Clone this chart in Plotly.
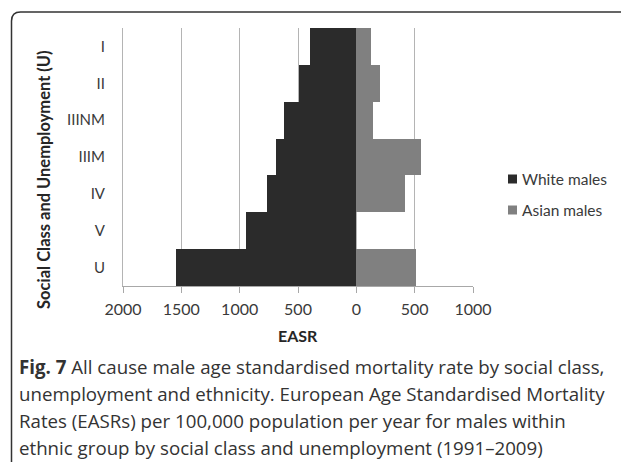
import plotly.graph_objects as go

# Social class / unemployment groups, top to bottom
categories = ["I", "II", "IIINM", "IIIM", "IV", "V", "U"]
# EASR per 100,000 per year
white_males = [400, 490, 620, 690, 770, 945, 1545]
asian_males = [125, 200, 140, 555, 415, 0, 510]

tick_vals = [-2000, -1500, -1000, -500, 0, 500, 1000]
tick_text = ["2000", "1500", "1000", "500", "0", "500", "1000"]

W, H = 621, 462
L, R, T, B = 123, 148, 28, 176
PW, PH = W - L - R, H - T - B


def px(x):
    return (x - L) / PW


def py(y):
    return (H - B - y) / PH


CHART_FONT = "Lato, 'Open Sans', sans-serif"
CAPTION_FONT = "'Open Sans', 'Noto Sans', sans-serif"

fig = go.Figure()
fig.add_trace(go.Bar(
    y=categories, x=[-v for v in white_males], orientation="h",
    name="White males", marker=dict(color="#2b2b2b", line=dict(width=0)),
    showlegend=False,
))
fig.add_trace(go.Bar(
    y=categories, x=asian_males, orientation="h",
    name="Asian males", marker=dict(color="#808080", line=dict(width=0)),
    showlegend=False,
))

fig.update_layout(
    width=W, height=H,
    margin=dict(l=L, r=R, t=T, b=B),
    paper_bgcolor="white", plot_bgcolor="white",
    barmode="relative", bargap=0,
    font=dict(family=CHART_FONT, size=14, color="#404040"),
)
fig.update_xaxes(
    range=[-2000, 1000], tickvals=tick_vals, ticktext=tick_text,
    showgrid=True, gridcolor="#b4b4b4", gridwidth=1, zeroline=False,
    showline=True, linecolor="#a8a8a8", linewidth=1,
    ticks="outside", ticklen=6, tickcolor="#a8a8a8",
    ticklabelstandoff=3,
    tickfont=dict(size=16, color="#3a3a3a"),
)
fig.update_yaxes(
    categoryorder="array", categoryarray=categories, autorange="reversed",
    showgrid=False, zeroline=False, showline=True, linecolor="#b4b4b4",
    ticks="", ticklabelstandoff=14,
    tickfont=dict(size=15, color="#3a3a3a"),
)

ann = []
# axis titles
ann.append(dict(x=px(44), y=py(180), xref="paper", yref="paper",
                text="<b>Social Class and Unemployment (U)</b>", textangle=-90,
                showarrow=False, font=dict(size=16.5, color="#262626"),
                xanchor="center", yanchor="middle"))
ann.append(dict(x=px(298), y=py(335), xref="paper", yref="paper",
                text="<b>EASR</b>", showarrow=False,
                font=dict(size=16, color="#262626"),
                xanchor="center", yanchor="middle"))

# legend
shapes = []
legend_items = [("White males", "#2b2b2b", 179), ("Asian males", "#808080", 210)]
for label, color, yc in legend_items:
    shapes.append(dict(type="rect", xref="paper", yref="paper",
                       x0=px(508), x1=px(517), y0=py(yc + 4.5), y1=py(yc - 4.5),
                       fillcolor=color, line=dict(width=0)))
    ann.append(dict(x=px(520), y=py(yc), xref="paper", yref="paper",
                    text=label, showarrow=False, xanchor="left", yanchor="middle",
                    font=dict(size=15.5, color="#3a3a3a")))

# caption
caption = [
    "<b>Fig. 7</b> All cause male age standardised mortality rate by social class,",
    "unemployment and ethnicity. European Age Standardised Mortality",
    "Rates (EASRs) per 100,000 population per year for males within",
    "ethnic group by social class and unemployment (1991–2009)",
]
for i, line in enumerate(caption):
    ann.append(dict(x=px(17), y=py(366 + 27 * i), xref="paper", yref="paper",
                    text=line, showarrow=False, xanchor="left", yanchor="middle",
                    font=dict(family=CAPTION_FONT, size=18.7, color="#333333")))

# rounded frame around the figure block
x0, y0, r = 11.5, 12, 9
path = (f"M {px(x0)},{py(470)} L {px(x0)},{py(y0 + r)} "
        f"Q {px(x0)},{py(y0)} {px(x0 + r)},{py(y0)} L {px(630)},{py(y0)}")
shapes.append(dict(type="path", xref="paper", yref="paper", path=path,
                   line=dict(color="#333333", width=1.5), layer="above"))

fig.update_layout(annotations=ann, shapes=shapes)
fig.write_html("out.html")
